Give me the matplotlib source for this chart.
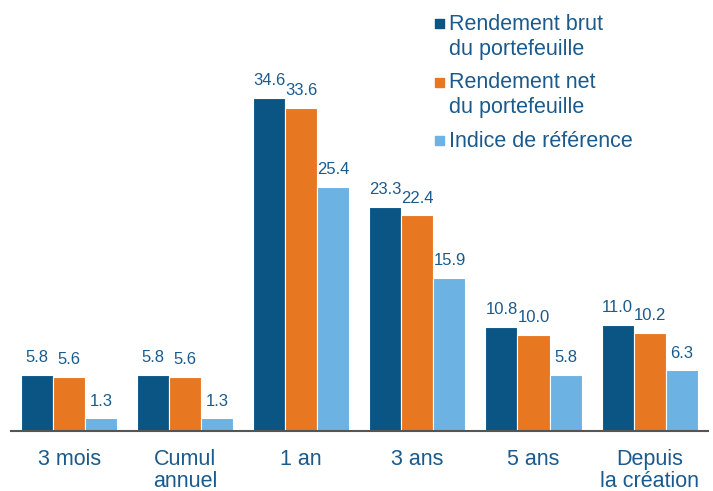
import numpy as np
import matplotlib.pyplot as plt
from matplotlib.patches import Rectangle

plt.rcParams['font.family'] = ['Liberation Sans', 'DejaVu Sans']

categories = ['3 mois', 'Cumul\nannuel', '1 an', '3 ans', '5 ans', 'Depuis\nla création']
brut = [5.8, 5.8, 34.6, 23.3, 10.8, 11.0]
net = [5.6, 5.6, 33.6, 22.4, 10.0, 10.2]
indice = [1.3, 1.3, 25.4, 15.9, 5.8, 6.3]
series_labels = ['Rendement brut\ndu portefeuille', 'Rendement net\ndu portefeuille',
                 'Indice de référence']

colors = ['#0B5585', '#E87722', '#6CB2E2']
text_color = '#1B5A8C'

W, H = 713, 491
fig = plt.figure(figsize=(W / 100, H / 100), dpi=100)
ax = fig.add_axes([0.0155, 0.1222, 0.977, 0.8778])

x = np.arange(len(categories))
w = 0.276
for i, (vals, c) in enumerate(zip([brut, net, indice], colors)):
    pos = x + (i - 1) * w
    bars = ax.bar(pos, vals, w, color=c, edgecolor='white', linewidth=0.8)
    for b, v in zip(bars, vals):
        ax.annotate(f'{v:.1f}', (b.get_x() + b.get_width() / 2, v),
                    xytext=(0, 7), textcoords='offset points',
                    ha='center', va='bottom', fontsize=12, color=text_color)

ax.set_xlim(-0.5, len(categories) - 0.5)
ax.set_ylim(0, 44.8)
ax.set_xticks(x)
ax.set_xticklabels(categories, fontsize=15.5, color=text_color, linespacing=1.06)
ax.tick_params(axis='x', length=0, pad=13)
ax.set_yticks([])
for s in ['top', 'right', 'left']:
    ax.spines[s].set_visible(False)
ax.spines['bottom'].set_color('#555555')
ax.spines['bottom'].set_linewidth(1.5)

# legend drawn by hand: square next to the first line of each label
baseline = 30
for label, c in zip(series_labels, colors):
    fig.patches.append(Rectangle((435 / W, 1 - (baseline - 2) / H), 9 / W, 9 / H,
                                 transform=fig.transFigure, color=c))
    for line in label.split('\n'):
        fig.text(449 / W, 1 - baseline / H, line, fontsize=15.5, color=text_color,
                 ha='left', va='baseline')
        baseline += 24.5
    baseline += 9.5

fig.savefig('out.png', dpi=100)
